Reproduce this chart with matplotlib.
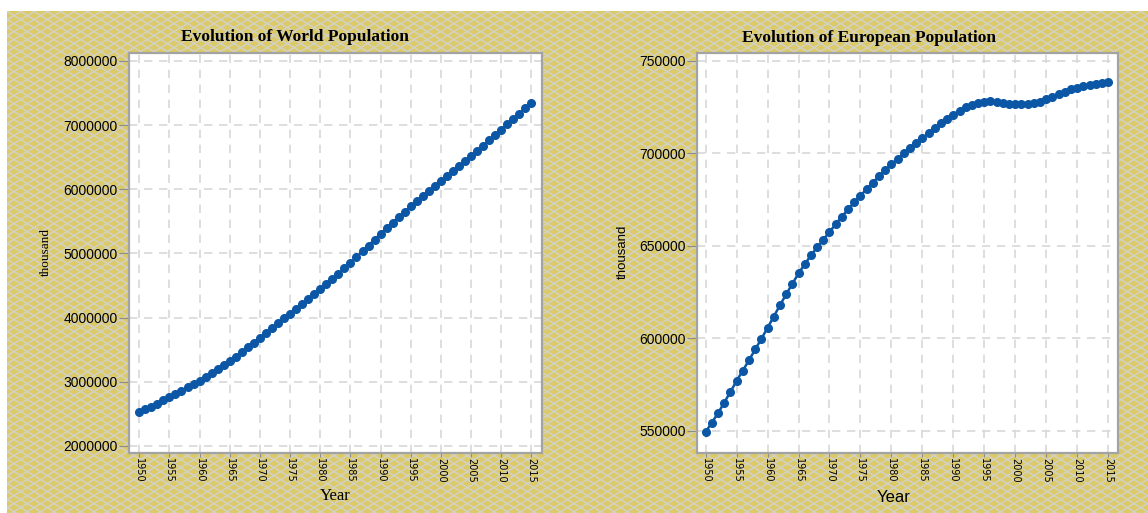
import numpy as np
import matplotlib.pyplot as plt
from matplotlib.patches import Rectangle
from matplotlib.collections import LineCollection

# population in thousands, one value per year
years = list(range(1950, 2016))
world = [2525000, 2570000, 2615000, 2661000, 2709000, 2758000, 2809000, 2861000, 2913000, 2966000,
         3018000, 3074000, 3134000, 3196000, 3259000, 3322000, 3393000, 3464000, 3537000, 3610000,
         3682000, 3760000, 3836000, 3912000, 3987000, 4061000, 4135000, 4210000, 4286000, 4362000,
         4440000, 4520000, 4601000, 4683000, 4767000, 4853000, 4942000, 5032000, 5124000, 5216000,
         5310000, 5396000, 5481000, 5567000, 5651000, 5735000, 5814000, 5893000, 5971000, 6049000,
         6127000, 6205000, 6283000, 6362000, 6441000, 6520000, 6601000, 6682000, 6764000, 6847000,
         6930000, 7013000, 7097000, 7181000, 7265000, 7349000]
europe = [549300, 554400, 559500, 565200, 571000, 576900, 582500, 588100, 593900, 599700,
          605600, 611700, 617800, 623700, 629400, 635000, 640000, 644700, 649100, 653300,
          657400, 661600, 665700, 669600, 673400, 677000, 680600, 684100, 687500, 690800,
          693900, 696900, 699800, 702600, 705400, 708100, 710800, 713500, 716100, 718500,
          720800, 722900, 724700, 726100, 727100, 727800, 728000, 727700, 727200, 726700,
          726400, 726300, 726500, 727000, 727900, 729000, 730300, 731700, 733100, 734400,
          735400, 736200, 736900, 737500, 738000, 738400]

year_ticks = list(range(1950, 2016, 5))
world_ticks = [2000000, 3000000, 4000000, 5000000, 6000000, 7000000, 8000000]
europe_ticks = [550000, 600000, 650000, 700000, 750000]

W, H = 1148, 513
fig = plt.figure(figsize=(W / 100, H / 100), dpi=100)
fig.patch.set_facecolor('white')

# yellow crosshatched backdrop
bg = fig.add_axes([0, 0, 1, 1], zorder=-10)
bg.set_xlim(0, W)
bg.set_ylim(H, 0)
bg.axis('off')
panel = Rectangle((7, 11), W - 7, H - 11, facecolor='#dbca66', edgecolor='none')
bg.add_patch(panel)
s, step = 0.6, 8
segs = []
for c in np.arange(-s * W, H + step, step):
    segs.append([(0, c), (W, c + s * W)])
for c in np.arange(0, H + s * W + step, step):
    segs.append([(0, c), (W, c - s * W)])
hatch = LineCollection(segs, colors='#d3d1c6', linewidths=1.1)
bg.add_collection(hatch)
hatch.set_clip_path(panel)

blue = '#0b57a6'


def style(ax, yticks, ylim):
    ax.set_facecolor('white')
    ax.set_xlim(1948.3, 2016.7)
    ax.set_ylim(*ylim)
    ax.set_xticks(year_ticks)
    ax.set_xticklabels([str(y) for y in year_ticks], rotation=270, fontsize=7,
                       family='DejaVu Sans', color='black')
    ax.set_yticks(yticks)
    ax.set_yticklabels([str(v) for v in yticks], fontsize=10, family='Liberation Sans',
                       color='black')
    ax.grid(True, color='#d8d8d8', linestyle=(0, (5, 4)), linewidth=1.2)
    ax.set_axisbelow(True)
    for sp in ax.spines.values():
        sp.set_color('#a3a3a3')
        sp.set_linewidth(1.6)
    ax.tick_params(axis='y', length=7, color='#8c8c8c', pad=1)
    ax.tick_params(axis='x', length=3, color='#8c8c8c', pad=1)


ax1 = fig.add_axes([129 / W, 1 - 452.7 / H, 412.7 / W, 399.4 / H])
ax1.plot(years, world, color=blue, marker='o', ms=5.5, lw=1.8)
style(ax1, world_ticks, (1895000, 8120000))

ax2 = fig.add_axes([697 / W, 1 - 452.7 / H, 421 / W, 399.4 / H])
ax2.plot(years, europe, color=blue, marker='o', ms=5.5, lw=1.8)
style(ax2, europe_ticks, (538100, 753950))
ax2.set_xlim(1948.6, 2016.6)

fig.text(295 / W, 1 - 37 / H, 'Evolution of World Population', ha='center', va='center',
         family='Liberation Serif', weight='bold', fontsize=12.5)
fig.text(869 / W, 1 - 38 / H, 'Evolution of European Population', ha='center', va='center',
         family='Liberation Serif', weight='bold', fontsize=12.5)
fig.text(335 / W, 1 - 496 / H, 'Year', ha='center', va='center', family='Liberation Serif',
         fontsize=12)
fig.text(894 / W, 1 - 497 / H, 'Year', ha='center', va='center', family='Liberation Sans',
         fontsize=12)
fig.text(46 / W, 1 - 252 / H, 'thousand', ha='center', va='center', rotation=90,
         family='Liberation Serif', fontsize=9.5)
fig.text(623 / W, 1 - 252 / H, 'thousand', ha='center', va='center', rotation=90,
         family='Liberation Sans', fontsize=9.5)

fig.savefig('out.png', dpi=100)
